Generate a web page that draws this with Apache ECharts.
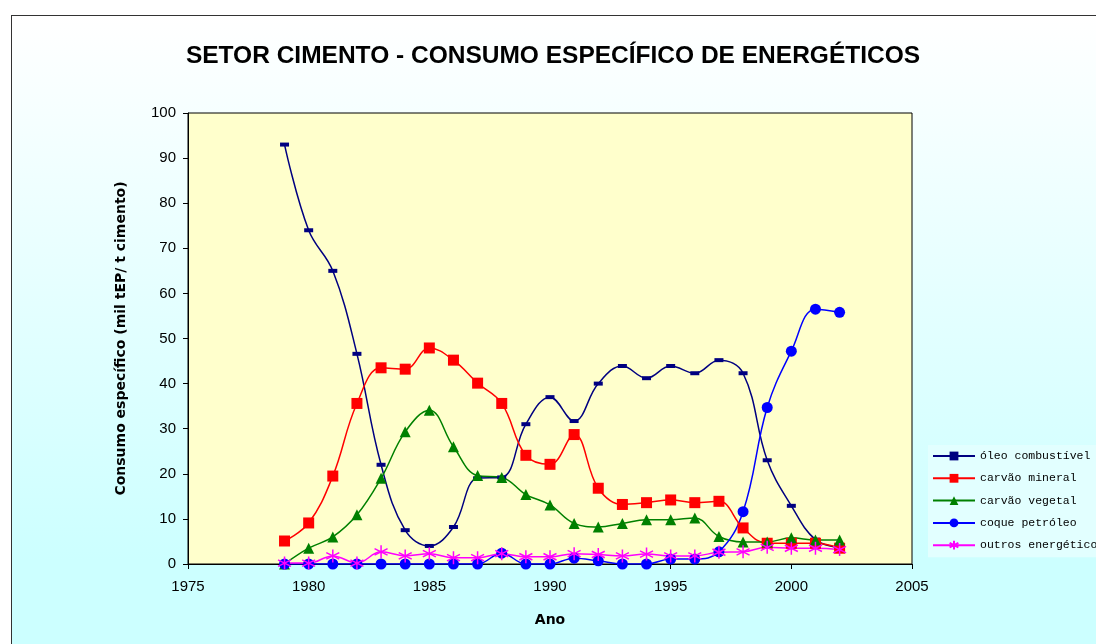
<!DOCTYPE html>
<html>
<head>
    <meta charset="utf-8">
    <title>Setor cimento - consumo específico</title>
    <style>
        body { margin: 0; background: #fff; }
        #frame { position: absolute; left: 11px; top: 15px; width: 1100px; height: 640px;
                 border: 1px solid #333; background: linear-gradient(#ffffff, #ccffff 85%); }
        #main { position: absolute; left: 0; top: 0; width: 1096px; height: 644px; }
    </style>
</head>
<body>
    <div id="frame"></div>
    <div id="main"></div>
    <script src="https://cdn.jsdelivr.net/npm/echarts@6/dist/echarts.min.js"></script>
    <script>
    // anos e séries (mil tEP / t cimento)
    var anos = [1979, 1980, 1981, 1982, 1983, 1984, 1985, 1986, 1987, 1988, 1989, 1990,
                1991, 1992, 1993, 1994, 1995, 1996, 1997, 1998, 1999, 2000, 2001, 2002];
    var oleoCombustivel = [93, 74, 65, 46.6, 22, 7.5, 4, 8.2, 19, 19.2, 31, 37,
                           31.7, 40, 43.9, 41.2, 43.9, 42.3, 45.2, 42.3, 23, 12.9, 5.4, 3.6];
    var carvaoMineral = [5.1, 9.1, 19.5, 35.6, 43.5, 43.2, 47.9, 45.2, 40.1, 35.6, 24.1, 22.1,
                         28.7, 16.8, 13.2, 13.6, 14.2, 13.6, 13.9, 8, 4.6, 4.6, 4.6, 3.5];
    var carvaoVegetal = [0, 3.5, 6, 10.9, 19, 29.3, 34.1, 26, 19.6, 19.2, 15.4, 13.1,
                         9, 8.2, 9, 9.8, 9.8, 10.2, 6.1, 4.9, 4.9, 5.8, 5.3, 5.3];
    var coquePetroleo = [0, 0, 0, 0, 0, 0, 0, 0, 0, 2.4, 0, 0,
                         1.3, 0.7, 0, 0, 1.1, 1.1, 2.7, 11.6, 34.7, 47.2, 56.5, 55.8];
    var outrosEnergeticos = [0.2, 0.2, 1.8, 0.2, 2.7, 1.8, 2.3, 1.4, 1.4, 2.3, 1.6, 1.6,
                             2.3, 2.1, 1.8, 2.2, 1.8, 1.8, 2.6, 2.7, 3.7, 3.5, 3.5, 3.2];
    var nomes = ['óleo combustível', 'carvão mineral', 'carvão vegetal', 'coque petróleo', 'outros energéticos'];

    function pares(valores) {
        return anos.map(function (a, i) { return [a, valores[i]]; });
    }

    var asterisco = 'path://M5,0L5,10M0.7,2.5L9.3,7.5M0.7,7.5L9.3,2.5';
    var fonte = 'Liberation Sans, Arial, sans-serif';
    var fonteNegrito = 'DejaVu Sans, sans-serif';

    var myChart = echarts.init(document.getElementById('main'));
    var option = {
        animation: false,
        title: {
            text: 'SETOR CIMENTO - CONSUMO ESPECÍFICO DE ENERGÉTICOS',
            left: 548, top: 39, textAlign: 'center',
            textStyle: { fontFamily: fonte, fontSize: 24.5, fontWeight: 'bold', color: '#000' }
        },
        legend: {
            orient: 'vertical',
            left: 928, top: 445,
            padding: [5, 10, 6, 4],
            itemWidth: 42, itemHeight: 11, itemGap: 10.3,
            backgroundColor: '#e2ffff',
            textStyle: { fontFamily: 'Liberation Mono, monospace', fontSize: 11.5, color: '#000' },
            data: nomes
        },
        grid: {
            left: 188, top: 113, width: 724, height: 451,
            show: true, backgroundColor: '#ffffcc', borderColor: '#000', borderWidth: 1
        },
        xAxis: {
            type: 'value', min: 1975, max: 2005, interval: 5,
            name: 'Ano', nameLocation: 'middle', nameGap: 49,
            nameTextStyle: { fontFamily: fonteNegrito, fontSize: 14, fontWeight: 'bold', color: '#000' },
            axisLine: { lineStyle: { color: '#000' } },
            axisTick: { length: 5, lineStyle: { color: '#000' } },
            axisLabel: {
                fontFamily: fonte, fontSize: 15, color: '#000', margin: 15,
                formatter: function (v) { return String(v); }
            },
            splitLine: { show: false }
        },
        yAxis: {
            type: 'value', min: 0, max: 100, interval: 10,
            name: 'Consumo específico (mil tEP/ t cimento)', nameLocation: 'middle', nameGap: 60,
            nameTextStyle: { fontFamily: fonteNegrito, fontSize: 14, fontWeight: 'bold', color: '#000' },
            axisLine: { show: true, lineStyle: { color: '#000' } },
            axisTick: { show: true, length: 5, lineStyle: { color: '#000' } },
            axisLabel: { fontFamily: fonte, fontSize: 15, color: '#000', margin: 12 },
            splitLine: { show: false }
        },
        series: [
            {
                name: nomes[0], type: 'line', smooth: 0.4, data: pares(oleoCombustivel),
                symbol: 'rect', symbolSize: [9, 4],
                lineStyle: { color: '#000080', width: 1.5 }, itemStyle: { color: '#000080' }
            },
            {
                name: nomes[1], type: 'line', smooth: 0.4, data: pares(carvaoMineral),
                symbol: 'rect', symbolSize: 11,
                lineStyle: { color: '#ff0000', width: 1.5 }, itemStyle: { color: '#ff0000' }
            },
            {
                name: nomes[2], type: 'line', smooth: 0.4, data: pares(carvaoVegetal),
                symbol: 'triangle', symbolSize: 11,
                lineStyle: { color: '#008000', width: 1.5 }, itemStyle: { color: '#008000' }
            },
            {
                name: nomes[3], type: 'line', smooth: 0.4, data: pares(coquePetroleo),
                symbol: 'circle', symbolSize: 11,
                lineStyle: { color: '#0000ff', width: 1.5 }, itemStyle: { color: '#0000ff' }
            },
            {
                name: nomes[4], type: 'line', smooth: 0.4, data: pares(outrosEnergeticos),
                symbol: asterisco, symbolSize: 13,
                lineStyle: { color: '#ff00ff', width: 1.5 },
                itemStyle: { color: '#ff00ff', borderColor: '#ff00ff', borderWidth: 1.5 }
            }
        ]
    };
    myChart.setOption(option);
    </script>
</body>
</html>
